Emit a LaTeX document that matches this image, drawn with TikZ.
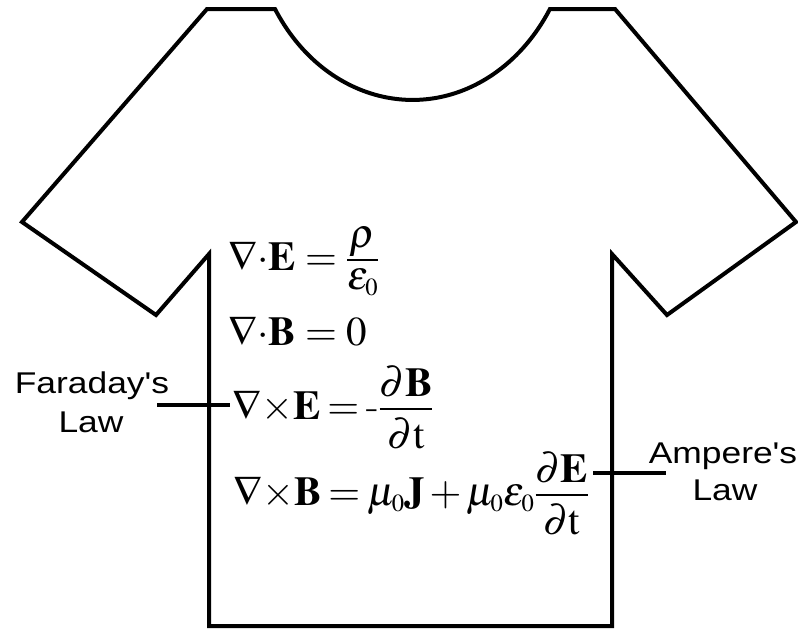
\documentclass[tikz,border=0pt]{standalone}
\usepackage{amsmath}
\usepackage{mathptmx}
\usepackage[no-math]{fontspec}
\newfontfamily\labfont{Liberation Sans}[Ligatures=TeXOff]
\newcommand{\zsub}{_{\scriptscriptstyle 0}}
\newcommand{\pfrac}[2]{\frac{\textstyle #1\rule[-10pt]{0pt}{10pt}}{\textstyle\rule{0pt}{37pt}#2}}
\begin{document}
\begin{tikzpicture}[x=1pt,y=-1pt]
\tikzset{
  shirt/.style={line width=4pt, line join=miter},
  leader/.style={line width=4pt},
  eq/.style={anchor=base west, inner sep=0pt, font=\fontsize{41}{49}\selectfont},
  lab/.style={anchor=base, inner sep=0pt, font=\labfont\fontsize{30}{36}\selectfont}
}
\useasboundingbox (0,0) rectangle (798,629);
% shirt outline
\draw[shirt] (207,9) -- (275,9)
  arc[start angle=148.4, end angle=31.6, x radius=161.4, y radius=191]
  -- (615,9) -- (796,222) -- (667,315) -- (612,254) -- (612,626)
  -- (209,626) -- (209,254) -- (156,315) -- (22,222) -- cycle;
% equations
\node[eq] (e1) at (228,270) {$\nabla{\cdot}\mathbf{E}=\frac{\textstyle\rho\rule[-8pt]{0pt}{8pt}}{\textstyle\rule{0pt}{27pt}\varepsilon\zsub}$};
\node[eq] (e2) at (228,345) {$\nabla{\cdot}\mathbf{B}=0$};
\node[eq] (e3) at (232,419) {$\thickmuskip=3mu \nabla{\times}\mathbf{E}=\mbox{-}\pfrac{\partial\mathbf{B}}{\partial\mathrm{t}}$};
\node[eq] (e4) at (233,505) {$\medmuskip=2mu \thickmuskip=3mu \nabla{\times}\mathbf{B}=\mu\zsub\mathbf{J}+\mu\zsub\varepsilon\zsub\pfrac{\partial\mathbf{E}}{\partial\mathrm{t}}$};
% labels
\node[lab] (f1) at (92,393) {\scalebox{1.18}[1]{Faraday's}};
\node[lab] (f2) at (91,432) {\scalebox{1.18}[1]{Law}};
\node[lab] (a1) at (723,463) {\scalebox{1.18}[1]{Ampere's}};
\node[lab] (a2) at (725,500) {\scalebox{1.18}[1]{Law}};
% leaders
\coordinate (fl) at (157,405);
\coordinate (fr) at (230,405);
\coordinate (al) at (593,473);
\coordinate (ar) at (666,473);
\draw[leader] (fl) -- (fr);
\draw[leader] (al) -- (ar);
\end{tikzpicture}
\end{document}
